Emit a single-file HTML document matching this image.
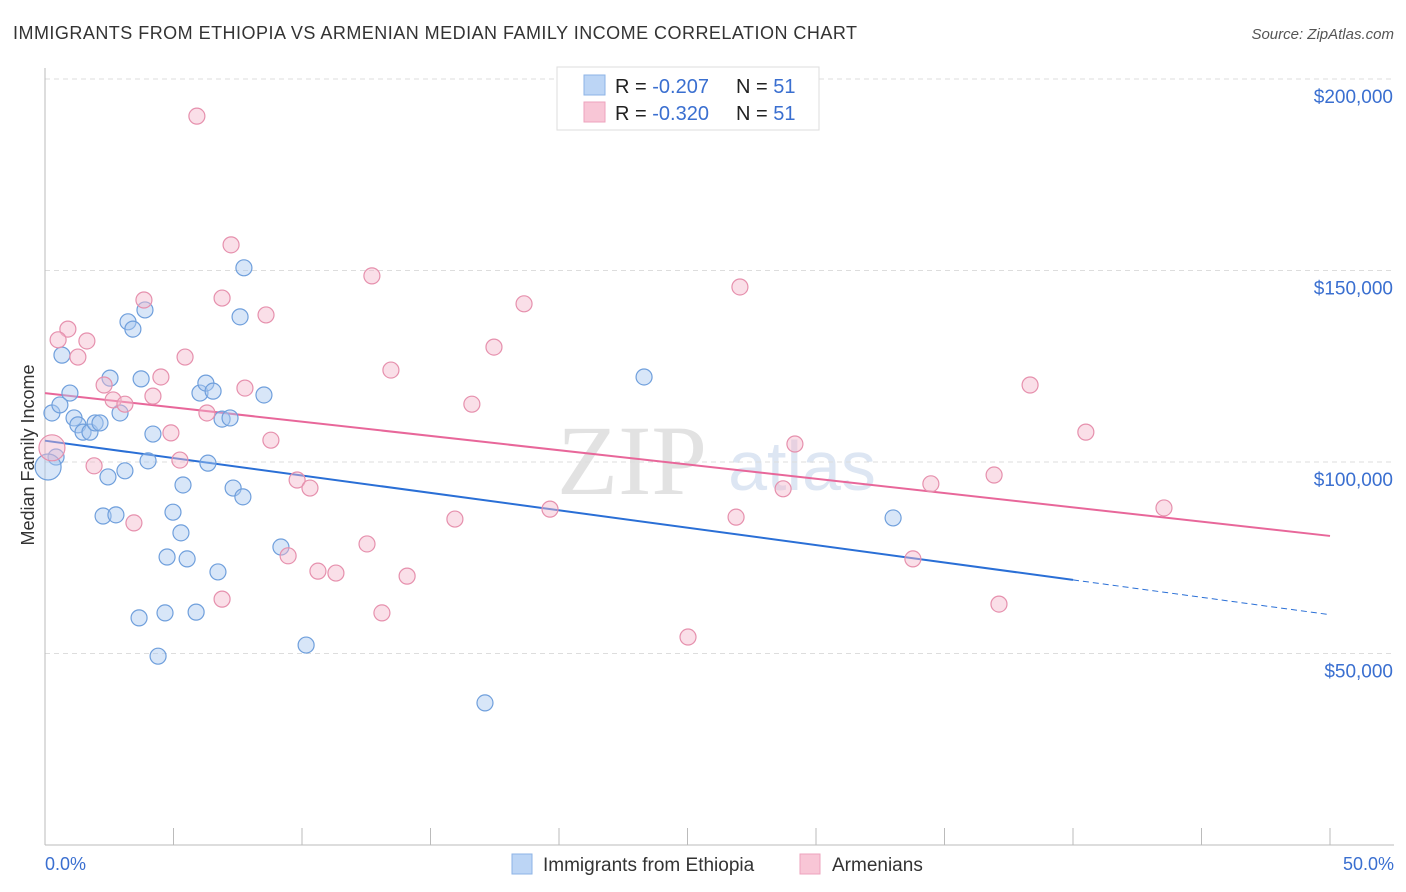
<!DOCTYPE html>
<html><head><meta charset="utf-8"><style>
body{margin:0;background:#fff;font-family:"Liberation Sans",sans-serif;}
svg{display:block}
</style></head><body>
<svg id="c" width="1406" height="892" xmlns="http://www.w3.org/2000/svg">
<text x="13" y="39" font-size="18" fill="#333" textLength="844">IMMIGRANTS FROM ETHIOPIA VS ARMENIAN MEDIAN FAMILY INCOME CORRELATION CHART</text>
<text x="1394" y="39" font-size="15" fill="#555" font-style="italic" text-anchor="end">Source: ZipAtlas.com</text>
<text x="632" y="494" font-size="100" fill="#e2e2e2" font-family="Liberation Serif" text-anchor="middle">ZIP</text>
<text x="802" y="490" font-size="70" fill="#dde6f3" text-anchor="middle">atlas</text>
<g id="grid"></g><g id="axes"></g><g id="lines"></g><g id="pts"></g>
<text transform="translate(34,455) rotate(-90)" font-size="18" fill="#333" text-anchor="middle">Median Family Income</text>
<text x="45" y="870" font-size="18" fill="#3a6fd0">0.0%</text>
<text x="1394" y="870" font-size="18" fill="#3a6fd0" text-anchor="end">50.0%</text>
<g>
<rect x="557" y="67" width="262" height="63" fill="#fff" stroke="#ddd"/>
<rect x="584" y="75" width="21" height="20" fill="#bcd5f5" stroke="#8db3e6"/>
<rect x="584" y="102" width="21" height="20" fill="#f8c6d6" stroke="#eea3bd"/>
<text x="615" y="93" font-size="20" fill="#222">R = <tspan fill="#3a6fd0">-0.207</tspan><tspan x="736">N = </tspan><tspan fill="#3a6fd0">51</tspan></text>
<text x="615" y="120" font-size="20" fill="#222">R = <tspan fill="#3a6fd0">-0.320</tspan><tspan x="736">N = </tspan><tspan fill="#3a6fd0">51</tspan></text>
</g>
<g>
<rect x="512" y="854" width="20" height="20" fill="#bcd5f5" stroke="#8db3e6"/>
<text x="543" y="871" font-size="19" fill="#333">Immigrants from Ethiopia</text>
<rect x="800" y="854" width="20" height="20" fill="#f8c6d6" stroke="#eea3bd"/>
<text x="832" y="871" font-size="19" fill="#333">Armenians</text>
</g>
</svg>
<script>
const yTicks=[50000,100000,150000,200000];
const yTickLabels=["$50,000","$100,000","$150,000","$200,000"];
const blueX=[0.27,0.66,0.97,0.58,1.13,1.28,1.48,1.75,1.95,2.14,0.43,0.12,2.45,2.26,2.76,2.53,2.92,3.11,3.23,3.42,3.89,3.74,4.20,4.01,3.66,4.67,4.40,4.75,4.98,5.29,5.37,5.53,5.88,6.03,6.26,6.54,6.34,6.73,6.89,7.20,7.32,7.70,7.59,7.74,8.52,9.18,10.16,17.12,23.31,33.0];
const blueY=[112.8,127.9,118.0,114.9,111.5,109.7,107.8,107.8,110.2,110.2,101.3,98.7,96.1,85.9,86.2,121.9,112.8,97.7,136.6,134.7,139.7,121.7,107.3,100.3,59.3,60.6,49.3,75.2,86.9,81.5,94.0,74.7,60.8,118.0,120.6,118.5,99.7,71.3,111.2,111.5,93.2,90.9,137.9,150.7,117.5,77.8,52.2,37.1,122.2,85.4];
const pinkX=[5.91,7.24,12.72,27.04,3.85,6.89,18.64,8.60,0.89,0.51,1.63,17.47,1.28,5.45,13.46,4.51,2.30,38.33,7.78,4.20,2.65,3.11,16.61,6.30,4.90,40.5,8.79,29.18,0.27,5.25,1.91,36.93,9.81,10.31,34.47,28.72,19.65,43.54,15.95,26.89,3.46,12.53,9.46,33.77,10.62,11.32,14.09,6.89,37.12,13.11,25.02];
const pinkY=[190.3,156.7,148.6,145.7,142.3,142.8,141.3,138.4,134.7,131.9,131.6,130.0,127.4,127.4,124.0,122.2,120.1,120.1,119.3,117.2,116.2,115.1,115.1,112.8,107.6,107.8,105.7,104.7,103.7,100.5,99.0,96.6,95.3,93.2,94.3,93.0,87.7,88.0,85.1,85.6,84.1,78.6,75.5,74.7,71.5,71.0,70.2,64.2,62.9,60.6,54.3];
const bigBlue=[11],bigPink=[28];
const NS="http://www.w3.org/2000/svg";
const sx=v=>45+v/50*1285, sy=v=>845-v/50000*191.5;
function mk(t,a,p){const e=document.createElementNS(NS,t);for(const k in a)e.setAttribute(k,a[k]);document.getElementById(p).appendChild(e);return e;}
yTicks.forEach((t,i)=>{
 const l=mk('line',{x1:45,x2:1394,y1:sy(t),y2:sy(t),stroke:'#ddd','stroke-dasharray':'5,4'},'grid');
 
 
 const tx=mk('text',{x:1393,y:sy(t)+24,'font-size':19,fill:'#3a6fd0','text-anchor':'end'},'grid');
 tx.textContent=yTickLabels[i];
 
 
});
const ax=mk('line',{x1:45,x2:1394,y1:845,y2:845,stroke:'#bbb'},'axes');


const ay=mk('line',{x1:45,x2:45,y1:68,y2:845,stroke:'#bbb'},'axes');


for(let i=0;i<=10;i++){const t=mk('line',{x1:sx(i*5),x2:sx(i*5),y1:828,y2:845,stroke:'#bbb'},'axes');
 
 }
function fit(X,Y){const n=X.length;let mx=0,my=0;for(let i=0;i<n;i++){mx+=X[i];my+=Y[i];}mx/=n;my/=n;let sxy=0,sxx=0;for(let i=0;i<n;i++){sxy+=(X[i]-mx)*(Y[i]-my);sxx+=(X[i]-mx)**2;}const b=sxy/sxx;return[my-b*mx,b];}
function trend(X,Y,col,name,solidEnd){const [a,b]=fit(X,Y);
 const l=mk('line',{x1:sx(0),y1:sy((a)*1000),x2:sx(solidEnd),y2:sy((a+b*solidEnd)*1000),stroke:col,'stroke-width':2},'lines');
 
 
 if(solidEnd<50){const d=mk('line',{x1:sx(solidEnd),y1:sy((a+b*solidEnd)*1000),x2:sx(50),y2:sy((a+b*50)*1000),stroke:col,'stroke-width':1,'stroke-dasharray':'6,4'},'lines');
 
 }}
trend(blueX,blueY,'#2a6fd6','ethiopia-trend-line',40);
trend(pinkX,pinkY,'#e8679a','armenians-trend-line',50);
function pts(X,Y,fill,stroke,name,big){X.forEach((x,i)=>{const c=mk('circle',{cx:sx(x),cy:sy(Y[i]*1000),r:big.includes(i)?13:8,fill:fill,'fill-opacity':0.45,stroke:stroke,'stroke-width':1.2},'pts');
 
 });}
pts(blueX,blueY,'#a8c8f0','#6f9fdc','ethiopia-point',bigBlue);
pts(pinkX,pinkY,'#f5b8cc','#e690ad','armenians-point',bigPink);
</script>
</body></html>
